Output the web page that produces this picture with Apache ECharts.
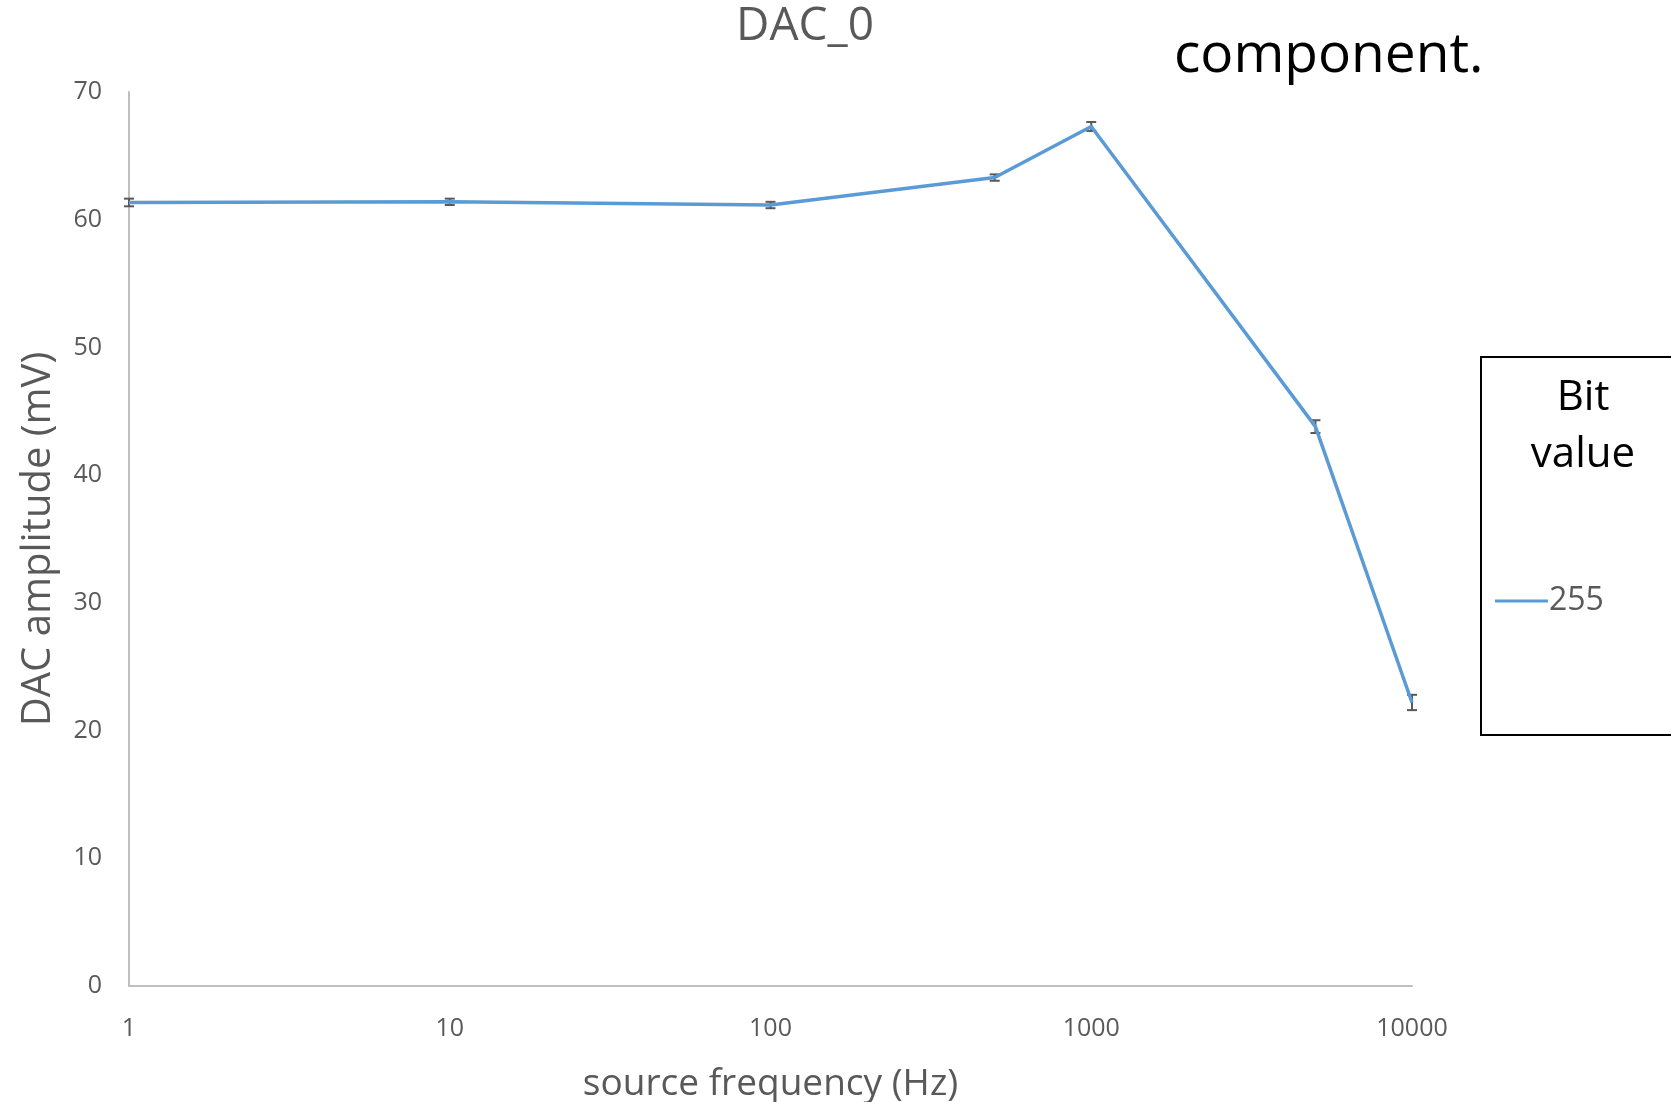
<!DOCTYPE html>
<html>
<head>
<meta charset="utf-8">
<script src="https://cdn.jsdelivr.net/npm/echarts@6/dist/echarts.min.js"></script>
<style>
html,body{margin:0;padding:0;background:#fff;}
#chart{width:1671px;height:1102px;}
</style>
</head>
<body>
<div id="chart"></div>
<script>
var frequencies = [1, 10, 100, 500, 1000, 5000, 10000];
var amplitudes = [61.35, 61.4, 61.15, 63.3, 67.3, 43.8, 22.2];
var errors = [0.3, 0.25, 0.25, 0.25, 0.35, 0.5, 0.6];
var seriesName = '255';
var xTicks = [1, 10, 100, 1000, 10000];
var yTicks = [0, 10, 20, 30, 40, 50, 60, 70];

var FONT = '"Open Sans", "Liberation Sans", sans-serif';
var lineData = frequencies.map(function (f, i) { return [f, amplitudes[i]]; });
var errData = frequencies.map(function (f, i) { return [f, amplitudes[i] - errors[i], amplitudes[i] + errors[i]]; });

var chart = echarts.init(document.getElementById('chart'));
chart.setOption({
  backgroundColor: '#ffffff',
  animation: false,
  title: {
    text: 'DAC_0',
    left: 800,
    textAlign: 'center',
    top: -1,
    textStyle: { fontFamily: FONT, fontSize: 46, fontWeight: 'normal', color: '#595959' }
  },
  grid: { left: 129, right: 259, top: 92, bottom: 116, containLabel: false, outerBoundsMode: 'none' },
  legend: {
    data: [seriesName],
    left: 1490,
    top: 580,
    orient: 'vertical',
    itemWidth: 53,
    itemHeight: 3,
    itemGap: 6,
    icon: 'rect',
    textStyle: { fontFamily: FONT, fontSize: 32, color: '#595959', padding: [0, 0, 0, -4] }
  },
  xAxis: {
    type: 'log',
    logBase: 10,
    min: 1,
    max: 10000,
    name: 'source frequency (Hz)',
    nameLocation: 'middle',
    nameGap: 80,
    nameTextStyle: { fontFamily: FONT, fontSize: 37, color: '#595959' },
    axisLine: { show: true, lineStyle: { color: '#BFBFBF', width: 2 } },
    axisTick: { show: false },
    splitLine: { show: false },
    minorTick: { show: false },
    axisLabel: {
      margin: 30,
      fontFamily: FONT, fontSize: 25, color: '#595959',
      formatter: function (v) { return xTicks.indexOf(Math.round(v)) >= 0 ? String(Math.round(v)) : ''; }
    }
  },
  yAxis: {
    type: 'value',
    min: 0,
    max: 70,
    interval: 10,
    name: 'DAC amplitude (mV)',
    nameLocation: 'middle',
    nameGap: 70,
    nameTextStyle: { fontFamily: FONT, fontSize: 40, color: '#595959' },
    axisLine: { show: true, lineStyle: { color: '#BFBFBF', width: 2 } },
    axisTick: { show: false },
    splitLine: { show: false },
    axisLabel: {
      margin: 27,
      fontFamily: FONT, fontSize: 25, color: '#595959',
      formatter: function (v) { return yTicks.indexOf(v) >= 0 ? String(v) : ''; }
    }
  },
  series: [
    {
      name: seriesName,
      type: 'line',
      data: lineData,
      symbol: 'none',
      lineStyle: { color: '#5B9BD5', width: 3.5 },
      itemStyle: { color: '#5B9BD5' },
      z: 3
    },
    {
      name: 'err',
      type: 'custom',
      data: errData,
      z: 2,
      renderItem: function (params, api) {
        var x = api.value(0);
        var lo = api.coord([x, api.value(1)]);
        var hi = api.coord([x, api.value(2)]);
        var w = 5;
        var st = { stroke: '#595959', lineWidth: 2 };
        return {
          type: 'group',
          children: [
            { type: 'line', shape: { x1: lo[0], y1: lo[1], x2: hi[0], y2: hi[1] }, style: st },
            { type: 'line', shape: { x1: lo[0] - w, y1: lo[1], x2: lo[0] + w, y2: lo[1] }, style: st },
            { type: 'line', shape: { x1: hi[0] - w, y1: hi[1], x2: hi[0] + w, y2: hi[1] }, style: st }
          ]
        };
      }
    }
  ],
  graphic: [
    {
      type: 'rect',
      shape: { x: 1481, y: 357, width: 260, height: 378 },
      style: { fill: 'none', stroke: '#000000', lineWidth: 2 },
      z: 1
    },
    {
      type: 'text',
      x: 1583, y: 398,
      style: { text: 'Bit', fontFamily: FONT, fontSize: 42, fill: '#000000', textAlign: 'center', textVerticalAlign: 'middle' }
    },
    {
      type: 'text',
      x: 1583, y: 455,
      style: { text: 'value', fontFamily: FONT, fontSize: 42, fill: '#000000', textAlign: 'center', textVerticalAlign: 'middle' }
    },
    {
      type: 'text',
      x: 1174, y: 56,
      style: { text: 'component.', fontFamily: FONT, fontSize: 55, fill: '#000000', textAlign: 'left', textVerticalAlign: 'middle' }
    }
  ]
});
</script>
</body>
</html>
